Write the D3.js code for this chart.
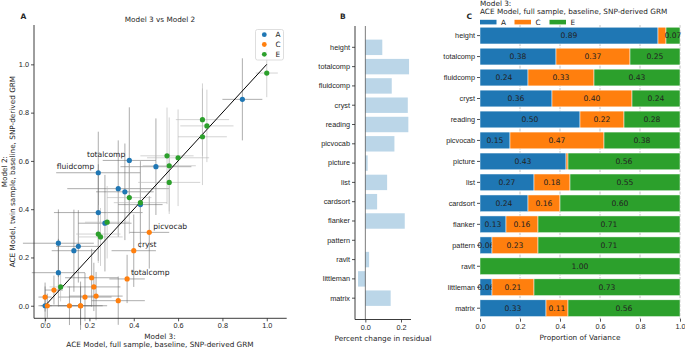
<!DOCTYPE html>
<html>
<head>
<meta charset="utf-8">
<script src="https://cdn.jsdelivr.net/npm/d3@7"></script>
<style>
  body { margin: 0; background: #fff; }
  svg { font-family: "DejaVu Sans", sans-serif; }
</style>
</head>
<body>
<svg id="fig" width="685" height="350"></svg>
<script>
// traits, top to bottom in panels B and C
var traits = ["height", "totalcomp", "fluidcomp", "cryst", "reading", "picvocab", "picture",
              "list", "cardsort", "flanker", "pattern", "ravlt", "littleman", "matrix"];
var comps = ["A", "C", "E"];
var colors = { A: "#1f77b4", C: "#ff7f0e", E: "#2ca02c" };

// Model 3 (full sample) proportions of variance
var m3A = [0.89, 0.38, 0.24, 0.36, 0.50, 0.15, 0.43, 0.27, 0.24, 0.13, 0.06, 0.00, 0.06, 0.33];
var m3C = [0.04, 0.37, 0.33, 0.40, 0.22, 0.47, 0.01, 0.18, 0.16, 0.16, 0.23, 0.00, 0.21, 0.11];
var m3E = [0.07, 0.25, 0.43, 0.24, 0.28, 0.38, 0.56, 0.55, 0.60, 0.71, 0.71, 1.00, 0.73, 0.56];

// Model 2 (twin sample) estimates
var m2A = [0.855, 0.602, 0.551, 0.472, 0.576, 0.246, 0.419, 0.342, 0.386, 0.228, 0.259, 0.000, 0.137, 0.485];
var m2C = [0.065, 0.111, 0.021, 0.228, 0.078, 0.304, 0.000, 0.036, 0.000, 0.000, 0.040, 0.036, 0.116, 0.000];
var m2E = [0.078, 0.285, 0.427, 0.297, 0.346, 0.448, 0.580, 0.621, 0.613, 0.771, 0.700, 0.964, 0.745, 0.511];

// error bar half widths (x: model 3, y: model 2)
var xErrA = [0.09, 0.12, 0.19, 0.13, 0.16, 0.10, 0.10, 0.12, 0.20, 0.10, 0.16, 0.03, 0.12, 0.23];
var yErrA = [0.17, 0.22, 0.17, 0.20, 0.20, 0.15, 0.18, 0.20, 0.20, 0.17, 0.14, 0.08, 0.14, 0.20];
var xErrC = [0.04, 0.08, 0.12, 0.10, 0.12, 0.09, 0.03, 0.12, 0.10, 0.12, 0.12, 0.03, 0.12, 0.10];
var yErrC = [0.06, 0.10, 0.10, 0.15, 0.10, 0.15, 0.05, 0.10, 0.08, 0.10, 0.10, 0.06, 0.12, 0.08];
var xErrE = [0.05, 0.10, 0.12, 0.10, 0.10, 0.10, 0.12, 0.12, 0.14, 0.12, 0.11, 0.05, 0.12, 0.14];
var yErrE = [0.06, 0.12, 0.15, 0.12, 0.15, 0.15, 0.20, 0.20, 0.20, 0.15, 0.20, 0.10, 0.15, 0.12];

// percent change in residual (panel B)
var residChange = [0.095, 0.245, 0.148, 0.238, 0.241, 0.163, 0.013, 0.122, 0.066, 0.221, 0.0, 0.021, -0.041, 0.142];

// labelled points in panel A
var annotations = [["totalcomp", "A"], ["fluidcomp", "A"], ["picvocab", "C"], ["cryst", "C"], ["totalcomp", "C"]];

var svg = d3.select("#fig");
var fs = 7.3;
var ink = "#262626";

var m3 = { A: m3A, C: m3C, E: m3E };
var m2 = { A: m2A, C: m2C, E: m2E };
var xErr = { A: xErrA, C: xErrC, E: xErrE };
var yErr = { A: yErrA, C: yErrC, E: yErrE };

function styleAxis(g) {
    g.selectAll("path.domain").remove();
    g.selectAll(".tick line").attr("stroke", ink).attr("stroke-width", 0.8);
    g.selectAll(".tick text").attr("font-size", fs).attr("fill", ink);
}

function label(g, x, y, txt, anchor, size, weight) {
    return g.append("text").attr("x", x).attr("y", y)
        .attr("text-anchor", anchor || "start")
        .attr("font-size", size || fs)
        .attr("font-weight", weight || "normal")
        .attr("fill", ink)
        .text(txt);
}

// ---------------- Panel A ----------------
var xA = d3.scaleLinear().domain([-0.05, 1.09]).range([34, 286.7]);
var yA = d3.scaleLinear().domain([-0.052, 1.163]).range([318.3, 25]);

var points = [];
comps.forEach(function(c) {
    traits.forEach(function(t, i) {
        points.push({ trait: t, comp: c, x: m3[c][i], y: m2[c][i], xe: xErr[c][i], ye: yErr[c][i] });
    });
});

var gA = svg.append("g");

// error bars
var eb = gA.append("g");
points.forEach(function(p) {
    var col = p.comp == "E" ? "#b5b5b5" : "#6a6a6a";
    var op = p.comp == "E" ? 0.6 : 0.55;
    eb.append("line")
        .attr("x1", xA(p.x - p.xe)).attr("x2", xA(p.x + p.xe))
        .attr("y1", yA(p.y)).attr("y2", yA(p.y))
        .attr("stroke", col).attr("stroke-opacity", op).attr("stroke-width", 1);
    eb.append("line")
        .attr("x1", xA(p.x)).attr("x2", xA(p.x))
        .attr("y1", yA(p.y - p.ye)).attr("y2", yA(p.y + p.ye))
        .attr("stroke", col).attr("stroke-opacity", op).attr("stroke-width", 1);
});

// identity line
gA.append("line")
    .attr("x1", xA(0)).attr("y1", yA(0))
    .attr("x2", xA(1)).attr("y2", yA(1))
    .attr("stroke", "#000").attr("stroke-width", 1);

gA.append("g").selectAll("circle")
    .data(points)
    .enter().append("circle")
    .attr("cx", function(d) { return xA(d.x); })
    .attr("cy", function(d) { return yA(d.y); })
    .attr("r", 2.6)
    .attr("fill", function(d) { return colors[d.comp]; });

annotations.forEach(function(a) {
    var i = traits.indexOf(a[0]);
    var px = m3[a[1]][i], py = m2[a[1]][i];
    var left = a[1] == "A";
    label(gA, left ? xA(px) - 4 : xA(px) + 4, yA(py) - 3.5, a[0], left ? "end" : "start", fs + 0.3);
});

var axA_x = gA.append("g").attr("transform", "translate(0,318.3)")
    .call(d3.axisBottom(xA).tickValues([0, 0.2, 0.4, 0.6, 0.8, 1.0]).tickFormat(d3.format(".1f")).tickSize(3).tickPadding(2));
styleAxis(axA_x);
var axA_y = gA.append("g").attr("transform", "translate(34,0)")
    .call(d3.axisLeft(yA).tickValues([0, 0.2, 0.4, 0.6, 0.8, 1.0]).tickFormat(d3.format(".1f")).tickSize(3).tickPadding(2));
styleAxis(axA_y);
gA.append("line").attr("x1", 34).attr("x2", 34).attr("y1", 25).attr("y2", 318.3).attr("stroke", ink).attr("stroke-width", 0.9);
gA.append("line").attr("x1", 34).attr("x2", 286.7).attr("y1", 318.3).attr("y2", 318.3).attr("stroke", ink).attr("stroke-width", 0.9);

label(gA, 160, 22, "Model 3 vs Model 2", "middle");
label(gA, 20.5, 18.5, "A", "start", 7.5, "bold");
label(gA, 160, 338.5, "Model 3:", "middle");
label(gA, 160, 347, "ACE Model, full sample, baseline, SNP-derived GRM", "middle");

var ylab = gA.append("g").attr("transform", "translate(0,171.6) rotate(-90)");
label(ylab, 0, 6.5, "Model 2:", "middle");
label(ylab, 0, 15, "ACE Model, twin sample, baseline, SNP-derived GRM", "middle");

// legend A
var legA = gA.append("g");
legA.append("rect").attr("x", 255.5).attr("y", 29.5).attr("width", 28).attr("height", 30.5)
    .attr("rx", 2).attr("fill", "#fff").attr("fill-opacity", 0.8).attr("stroke", "#d6d6d6").attr("stroke-width", 0.8);
comps.forEach(function(c, i) {
    legA.append("circle").attr("cx", 264.3).attr("cy", 34.7 + i * 9.8).attr("r", 2.4).attr("fill", colors[c]);
    label(legA, 275.5, 37.3 + i * 9.8, c);
});

// ---------------- Panel B ----------------
var xB = d3.scaleLinear().domain([-0.058, 0.256]).range([355, 411]);
var yB = d3.scaleBand().domain(traits).range([26, 319.5]).paddingInner(0.2).paddingOuter(0.705);
var gB = svg.append("g");

gB.selectAll("rect")
    .data(traits)
    .enter().append("rect")
    .attr("x", function(d, i) { return xB(Math.min(0, residChange[i])); })
    .attr("width", function(d, i) { return Math.abs(xB(residChange[i]) - xB(0)); })
    .attr("y", function(d) { return yB(d); })
    .attr("height", yB.bandwidth())
    .attr("fill", "#1f77b4").attr("fill-opacity", 0.3);

gB.append("line").attr("x1", xB(0)).attr("x2", xB(0)).attr("y1", 26).attr("y2", 319.5)
    .attr("stroke", "#444").attr("stroke-width", 0.7);

var axB_y = gB.append("g").attr("transform", "translate(355,0)")
    .call(d3.axisLeft(yB).tickSize(3).tickPadding(2));
styleAxis(axB_y);
var axB_x = gB.append("g").attr("transform", "translate(0,319.5)")
    .call(d3.axisBottom(xB).tickValues([0, 0.2]).tickFormat(d3.format(".1f")).tickSize(3).tickPadding(2));
styleAxis(axB_x);
gB.append("line").attr("x1", 355).attr("x2", 355).attr("y1", 26).attr("y2", 319.5).attr("stroke", ink).attr("stroke-width", 0.9);
gB.append("line").attr("x1", 355).attr("x2", 411).attr("y1", 319.5).attr("y2", 319.5).attr("stroke", ink).attr("stroke-width", 0.9);

label(gB, 340, 18.5, "B", "start", 7.5, "bold");
label(gB, 383, 340.5, "Percent change in residual", "middle");

// ---------------- Panel C ----------------
var xC = d3.scaleLinear().domain([0, 1]).range([480, 680]);
var yC = d3.scaleBand().domain(traits).range([25.1, 318.7]).paddingInner(0.2).paddingOuter(0.1);
var gC = svg.append("g");

// dashed grid
gC.append("g").selectAll("line")
    .data([0.2, 0.4, 0.6, 0.8, 1.0])
    .enter().append("line")
    .attr("x1", function(d) { return xC(d); }).attr("x2", function(d) { return xC(d); })
    .attr("y1", 25.1).attr("y2", 318.7)
    .attr("stroke", "#b0b0b0").attr("stroke-width", 0.8).attr("stroke-dasharray", "3,1.5");

var stackRows = traits.map(function(t, i) { return { trait: t, A: m3A[i], C: m3C[i], E: m3E[i] }; });
var series = d3.stack().keys(comps)(stackRows);

var layers = gC.selectAll("g.layer")
    .data(series)
    .enter().append("g").attr("class", "layer")
    .attr("fill", function(d) { return colors[d.key]; });

layers.selectAll("rect")
    .data(function(d) { return d; })
    .enter().append("rect")
    .attr("x", function(d) { return xC(d[0]); })
    .attr("width", function(d) { return xC(d[1]) - xC(d[0]); })
    .attr("y", function(d) { return yC(d.data.trait); })
    .attr("height", yC.bandwidth())
    .attr("stroke", "#fff").attr("stroke-width", 0.5);

layers.selectAll("text")
    .data(function(d) { return d.filter(function(s) { return s[1] - s[0] >= 0.05; }); })
    .enter().append("text")
    .attr("x", function(d) { return (xC(d[0]) + xC(d[1])) / 2; })
    .attr("y", function(d) { return yC(d.data.trait) + yC.bandwidth() / 2 + 2.7; })
    .attr("text-anchor", "middle")
    .attr("font-size", fs + 0.3)
    .attr("fill", "#222")
    .text(function(d) { return (d[1] - d[0]).toFixed(2); });

var axC_y = gC.append("g").attr("transform", "translate(480,0)")
    .call(d3.axisLeft(yC).tickSize(3).tickPadding(2));
styleAxis(axC_y);
var axC_x = gC.append("g").attr("transform", "translate(0,318.7)")
    .call(d3.axisBottom(xC).tickValues([0, 0.2, 0.4, 0.6, 0.8, 1.0]).tickFormat(d3.format(".1f")).tickSize(3).tickPadding(2));
styleAxis(axC_x);

label(gC, 466.5, 18.5, "C", "start", 7.5, "bold");
label(gC, 480, 5.8, "Model 3:");
label(gC, 480, 13.5, "ACE Model, full sample, baseline, SNP-derived GRM");
label(gC, 580, 340, "Proportion of Variance", "middle");

var legX = [480, 514.5, 549.5];
comps.forEach(function(c, i) {
    gC.append("rect").attr("x", legX[i]).attr("y", 19.8).attr("width", 16.5).attr("height", 4.6).attr("fill", colors[c]);
    label(gC, legX[i] + 21, 24.8, c);
});
</script>
</body>
</html>
